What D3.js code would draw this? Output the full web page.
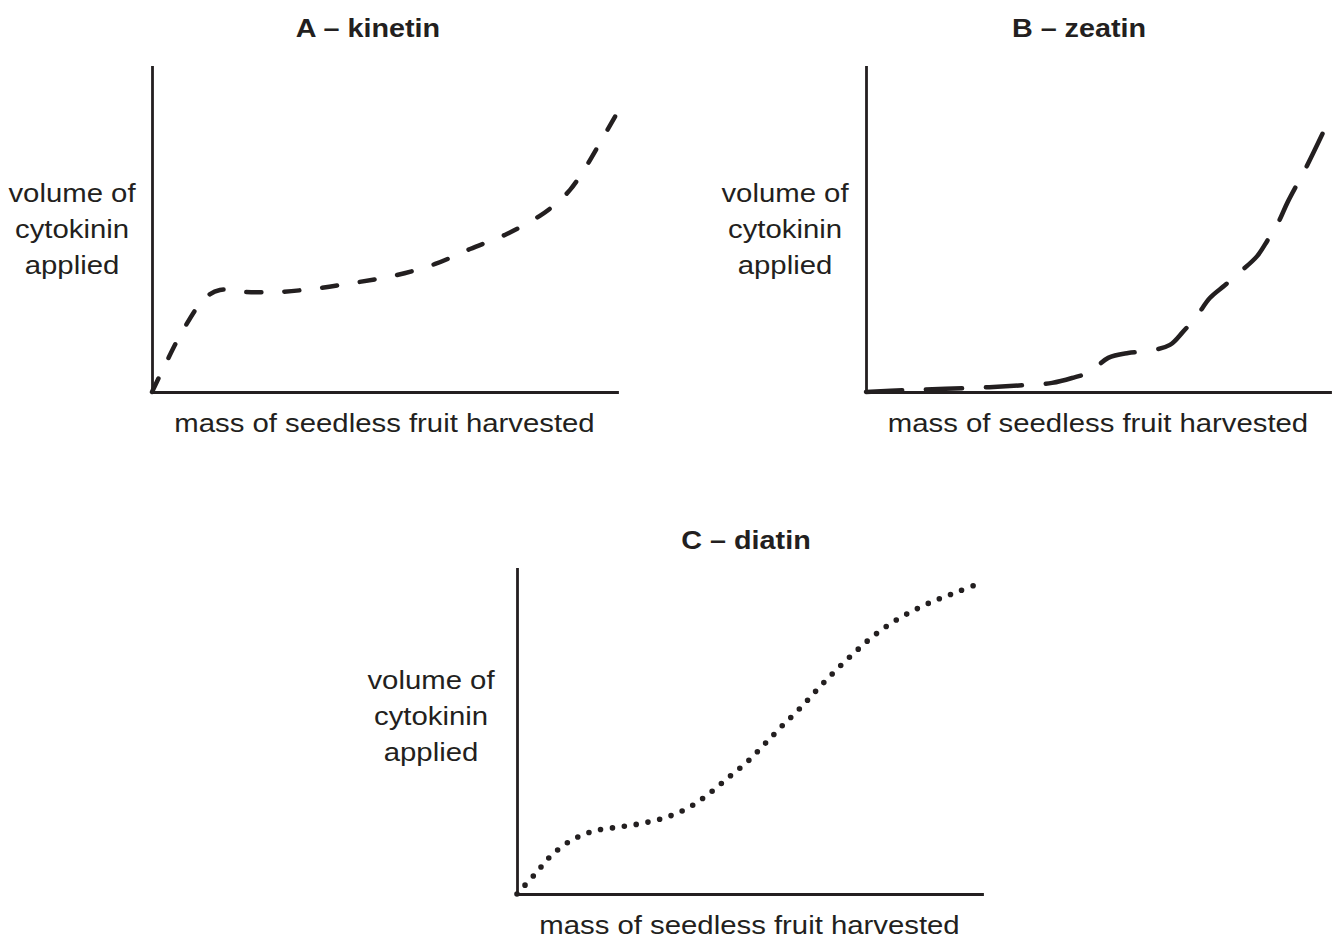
<!DOCTYPE html>
<html>
<head>
<meta charset="utf-8">
<script src="https://cdn.jsdelivr.net/npm/d3@7"></script>
<style>
  body { margin: 0; background: #fff; }
  text { font-family: "Liberation Sans", Arial, sans-serif; fill: #231f20; }
</style>
</head>
<body>
<div id="chart"></div>
<script>
// sketched values (both axes 0..100, no units)
const titles = ["A \u2013 kinetin", "B \u2013 zeatin", "C \u2013 diatin"];
const yLabel = ["volume of", "cytokinin", "applied"];
const xLabel = "mass of seedless fruit harvested";

const kinetinMass   = [0, 2.8, 6.7, 11.4, 14.6, 19.4, 27.5, 36.1, 44.3, 52.7, 60.9, 68.4, 76.3, 83.4, 87.1, 89.9, 92.5, 96.8, 100];
const kinetinVolume = [0, 8.3, 19.1, 28.9, 31.4, 30.8, 30.8, 32.0, 33.8, 36.0, 39.4, 44.0, 48.6, 54.2, 58.2, 62.2, 67.4, 77.8, 85.8];

const zeatinMass   = [0, 8.4, 22.0, 35.3, 40.1, 44.4, 48.3, 52.2, 56.5, 60.8, 65.5, 68.3, 71.3, 74.1, 77.4, 80.6, 84.3, 86.6, 88.8, 90.9, 95.0, 99.6];
const zeatinVolume = [0, 0.6, 1.2, 2.2, 2.8, 4.3, 6.2, 10.5, 12.0, 12.6, 14.5, 18.5, 23.4, 28.9, 32.9, 36.9, 41.8, 46.8, 52.0, 58.5, 69.5, 83.1];

const diatinMass   = [0, 4.1, 7.5, 11.8, 16.6, 21.9, 27.1, 32.3, 37.2, 41.5, 45.6, 49.7, 53.5, 57.0, 60.9, 64.5, 68.2, 72.0, 75.9, 80.2, 84.7, 89.7, 94.6, 99.6];
const diatinVolume = [0, 6.5, 12.0, 16.6, 19.4, 20.6, 21.8, 23.7, 26.8, 31.1, 36.0, 40.9, 46.5, 51.7, 57.2, 62.8, 68.3, 73.5, 78.5, 83.1, 86.8, 90.2, 92.9, 95.7];

const W = 1334, H = 939;
const ink = "#231f20";
const stretch = 1.15; // source picture is a little wider than tall

const panels = [
  { title: titles[0], xs: kinetinMass, ys: kinetinVolume, left: 152, right: 617, top: 67, bottom: 392,
    titleX: 368, titleY: 37, labX: 72, labY: 202, dash: "15,23", width: 4.5 },
  { title: titles[1], xs: zeatinMass, ys: zeatinVolume, left: 866, right: 1330, top: 67, bottom: 392,
    titleX: 1079, titleY: 37, labX: 785, labY: 202, dash: "36,24", width: 4.5 },
  { title: titles[2], xs: diatinMass, ys: diatinVolume, left: 517, right: 982, top: 569, bottom: 894,
    titleX: 746, titleY: 549, labX: 431, labY: 689, dash: "0,12", width: 5.6 }
];

const svg = d3.select("#chart").append("svg")
  .attr("width", W)
  .attr("height", H)
  .attr("viewBox", `0 0 ${W} ${H}`);

const addText = (g, x, y, str, size, weight) => {
  g.append("text")
    .attr("transform", `translate(${x},${y}) scale(${stretch},1)`)
    .attr("text-anchor", "middle")
    .attr("font-size", size)
    .attr("font-weight", weight)
    .text(str);
};

panels.forEach(p => {
  const g = svg.append("g");

  const x = d3.scaleLinear().domain([0, 100]).range([p.left, p.right]);
  const y = d3.scaleLinear().domain([0, 100]).range([p.bottom, p.top]);

  // plain axes, no ticks
  const xAxis = g.append("g")
    .attr("transform", `translate(0,${p.bottom})`)
    .call(d3.axisBottom(x).tickSizeOuter(0).tickValues([]));
  const yAxis = g.append("g")
    .attr("transform", `translate(${p.left},0)`)
    .call(d3.axisLeft(y).tickSizeOuter(0).tickValues([]));
  [xAxis, yAxis].forEach(a => a.select(".domain")
    .attr("stroke", ink)
    .attr("stroke-width", 2.8)
    .attr("stroke-linecap", "square"));

  const pts = p.xs.map((v, i) => [v, p.ys[i]]);
  const line = d3.line()
    .x(d => x(d[0]))
    .y(d => y(d[1]))
    .curve(d3.curveCatmullRom.alpha(0.5));

  g.append("path")
    .datum(pts)
    .attr("d", line)
    .attr("fill", "none")
    .attr("stroke", ink)
    .attr("stroke-width", p.width)
    .attr("stroke-linecap", "round")
    .attr("stroke-dasharray", p.dash);

  addText(g, p.titleX, p.titleY, p.title, 25, "bold");
  yLabel.forEach((s, i) => addText(g, p.labX, p.labY + i * 36, s, 25.5, "normal"));
  addText(g, (p.left + p.right) / 2, p.bottom + 40, xLabel, 25.5, "normal");
});
</script>
</body>
</html>
